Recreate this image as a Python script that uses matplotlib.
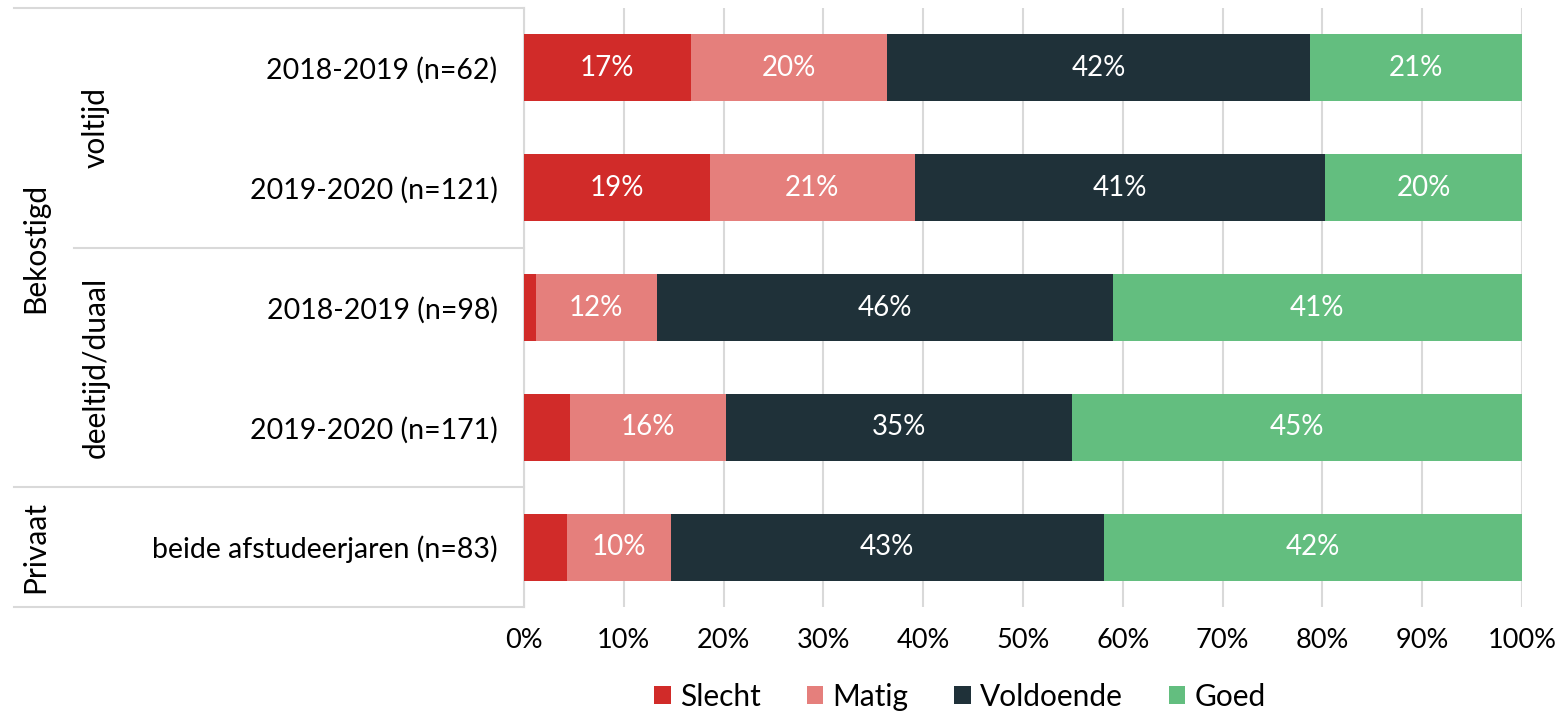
import matplotlib.pyplot as plt
import numpy as np

plt.rcParams['font.family'] = ['Lato', 'DejaVu Sans']

rows = ["2018-2019 (n=62)", "2019-2020 (n=121)", "2018-2019 (n=98)",
        "2019-2020 (n=171)", "beide afstudeerjaren (n=83)"]
series = ["Slecht", "Matig", "Voldoende", "Goed"]
slecht = [16.7, 18.6, 1.2, 4.6, 4.3]
matig = [19.7, 20.6, 12.1, 15.6, 10.4]
voldoende = [42.4, 41.1, 45.7, 34.7, 43.4]
goed = [21.2, 19.7, 41.0, 45.1, 41.9]
colors = ["#D12B29", "#E57F7C", "#1F3139", "#63BE7F"]

groups = [("Bekostigd", -0.5, 3.5), ("Privaat", 3.5, 4.5)]
subgroups = [("voltijd", -0.5, 1.5), ("deeltijd/duaal", 1.5, 3.5)]

fig = plt.figure(figsize=(15.62, 7.13), dpi=100)
ax = fig.add_axes([524 / 1562, 1 - 607 / 713, 998 / 1562, 599 / 713])

y = np.arange(len(rows))
left = np.zeros(len(rows))
for name, vals, c in zip(series, [slecht, matig, voldoende, goed], colors):
    vals = np.array(vals)
    ax.barh(y, vals, left=left, height=0.56, color=c, label=name, zorder=3)
    for yi, l, v in zip(y, left, vals):
        if v >= 8:
            ax.text(l + v / 2, yi, f"{v:.0f}%", ha='center', va='center',
                    color='white', fontsize=20, zorder=4)
    left += vals

ax.set_xlim(0, 100)
ax.set_ylim(4.5, -0.5)
ax.set_xticks(np.arange(0, 101, 10))
ax.set_xticklabels([f"{t}%" for t in range(0, 101, 10)], fontsize=19.5)
ax.set_yticks(y)
ax.set_yticklabels(rows, fontsize=20.5)
ax.tick_params(length=0, axis='x', pad=15)
ax.tick_params(length=0, axis='y', pad=19)
ax.grid(axis='x', color='#D9D9D9', linewidth=1.5, zorder=0)
for s in ['top', 'right', 'bottom']:
    ax.spines[s].set_visible(False)
ax.spines['left'].set_color('#D9D9D9')
ax.spines['left'].set_linewidth(1.5)

# hierarchical category axis on the left
tr = ax.get_yaxis_transform()
line_kw = dict(color='#D9D9D9', linewidth=1.5, transform=tr, clip_on=False)
x_outer = (14 - 524) / 998
x_inner = (74 - 524) / 998
ax.plot([x_outer, 0], [-0.5, -0.5], **line_kw)
ax.plot([x_outer, 0], [3.5, 3.5], **line_kw)
ax.plot([x_outer, 0], [4.5, 4.5], **line_kw)
ax.plot([x_inner, 0], [1.5, 1.5], **line_kw)
for label, a, b in groups:
    ax.text((35 - 524) / 998, (a + b) / 2, label, rotation=90, ha='center',
            va='center', fontsize=21.5, transform=tr)
for label, a, b in subgroups:
    ax.text((96 - 524) / 998, (a + b) / 2, label, rotation=90, ha='center',
            va='center', fontsize=21.5, transform=tr)

fig.legend(loc='center', bbox_to_anchor=(960 / 1562, 1 - 697 / 713), ncol=4,
           frameon=False, fontsize=21.5, handlelength=0.55, handleheight=0.55,
           handletextpad=0.3, columnspacing=1.55, borderpad=0)

fig.savefig("out.png", dpi=100)
